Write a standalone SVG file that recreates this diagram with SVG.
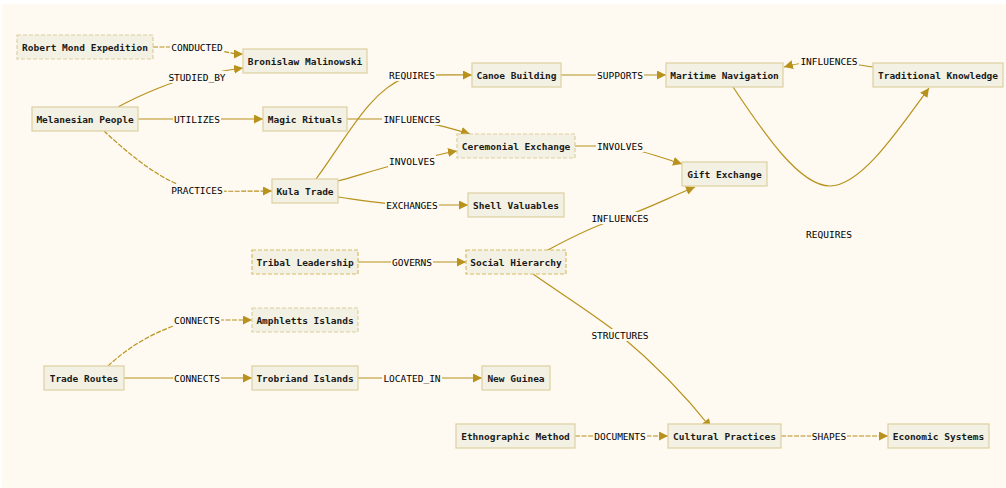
<svg xmlns="http://www.w3.org/2000/svg" width="1006" height="488" viewBox="0 0 1006 488">
<defs>
<marker id="arr" viewBox="0 0 10 10" refX="10" refY="5" markerWidth="9" markerHeight="9" markerUnits="userSpaceOnUse" orient="auto">
<path d="M0,0 L10,5 L0,10 z" fill="#b8921c"/>
</marker>
<style>
.bg{fill:#fef9f1}
.n rect{fill:#f3f1e3;stroke:#ddd0a0;stroke-width:1.2}
.n.d rect{stroke-dasharray:4 2}
.n.k rect{stroke:#d6bd64}
.n text{font-family:"DejaVu Sans Mono","Liberation Mono",monospace;font-size:9.5px;font-weight:bold;fill:#1a1a1a;text-anchor:middle;dominant-baseline:central}
#edges path{fill:none;stroke:#b8921c;stroke-width:1.2;marker-end:url(#arr)}
#edges path.ds{stroke-dasharray:5 1.5}
.lb rect{fill:#fef9f1}
.lb text{font-family:"DejaVu Sans Mono","Liberation Mono",monospace;font-size:9.5px;fill:#000;text-anchor:middle;dominant-baseline:central}
</style>
</defs>
<rect x="0" y="0" width="1006" height="488" fill="#ffffff"/>
<rect class="bg" x="2" y="4" width="1004" height="484" rx="3"/>

<g id="edges">
<path class="ds" d="M153,47 L185,47 C215,47 225,54 243,54"/>
<path d="M118,107 C140,95 175,80 197,76 C215,72 228,70 243,68"/>
<path d="M138,119 L263,119"/>
<path class="ds" d="M104,131 C130,155 165,185 197,190 C220,192 245,191 272,191"/>
<path d="M347,119 L400,119 C430,122 450,128 470,134"/>
<path d="M316,179 C345,140 370,90 405,78 C420,74 440,75 472,75"/>
<path d="M338,181 C360,175 390,165 412,161 C430,157 445,153 457,151"/>
<path d="M338,197 C360,200 390,205 412,205 L468,205"/>
<path d="M561,75 L666,75"/>
<path d="M873,67 C855,65 845,61 829,61 C810,61 795,64 784,67"/>
<path d="M733,87 C765,135 800,186 830,186 C860,186 895,135 929,88"/>
<path d="M575,146 L620,146 C640,150 660,157 682,164"/>
<path d="M546,251 C570,238 595,225 620,218 C645,210 670,197 695,187"/>
<path d="M358,262 L466,262"/>
<path d="M533,274 C560,293 595,315 620,335 C650,360 685,395 711,428"/>
<path class="ds" d="M108,366 C130,345 165,325 197,320 L252,320"/>
<path d="M124,378 L252,378"/>
<path d="M358,378 L482,378"/>
<path class="ds" d="M575,436 L668,436"/>
<path class="ds" d="M781,436 L888,436"/>

<g class="lb"><rect x="170" y="41" width="54" height="12"/><text x="197" y="47">CONDUCTED</text></g>
<g class="lb"><rect x="167" y="71" width="60" height="12"/><text x="197" y="77">STUDIED_BY</text></g>
<g class="lb"><rect x="173" y="113" width="48" height="12"/><text x="197" y="119">UTILIZES</text></g>
<g class="lb"><rect x="170" y="184" width="54" height="12"/><text x="197" y="190">PRACTICES</text></g>
<g class="lb"><rect x="382" y="113" width="60" height="12"/><text x="412" y="119">INFLUENCES</text></g>
<g class="lb"><rect x="388" y="69" width="48" height="12"/><text x="412" y="75">REQUIRES</text></g>
<g class="lb"><rect x="388" y="155" width="48" height="12"/><text x="412" y="161">INVOLVES</text></g>
<g class="lb"><rect x="385" y="199" width="54" height="12"/><text x="412" y="205">EXCHANGES</text></g>
<g class="lb"><rect x="596" y="69" width="48" height="12"/><text x="620" y="75">SUPPORTS</text></g>
<g class="lb"><rect x="799" y="55" width="60" height="12"/><text x="829" y="61">INFLUENCES</text></g>
<g class="lb"><rect x="805" y="228" width="48" height="12"/><text x="829" y="234">REQUIRES</text></g>
<g class="lb"><rect x="596" y="140" width="48" height="12"/><text x="620" y="146">INVOLVES</text></g>
<g class="lb"><rect x="590" y="212" width="60" height="12"/><text x="620" y="218">INFLUENCES</text></g>
<g class="lb"><rect x="391" y="256" width="42" height="12"/><text x="412" y="262">GOVERNS</text></g>
<g class="lb"><rect x="590" y="329" width="60" height="12"/><text x="620" y="335">STRUCTURES</text></g>
<g class="lb"><rect x="173" y="314" width="48" height="12"/><text x="197" y="320">CONNECTS</text></g>
<g class="lb"><rect x="173" y="372" width="48" height="12"/><text x="197" y="378">CONNECTS</text></g>
<g class="lb"><rect x="382" y="372" width="60" height="12"/><text x="412" y="378">LOCATED_IN</text></g>
<g class="lb"><rect x="593" y="430" width="54" height="12"/><text x="620" y="436">DOCUMENTS</text></g>
<g class="lb"><rect x="811" y="430" width="36" height="12"/><text x="829" y="436">SHAPES</text></g>
</g>

<g id="robert" class="n d"><rect x="17" y="35" width="136" height="24"/><text x="85" y="47">Robert Mond Expedition</text></g>
<g id="bronislaw" class="n"><rect x="243" y="49" width="124" height="24"/><text x="305" y="61">Bronislaw Malinowski</text></g>
<g id="melanesian" class="n"><rect x="32" y="107" width="106" height="24"/><text x="85" y="119">Melanesian People</text></g>
<g id="magic" class="n"><rect x="263" y="107" width="84" height="24"/><text x="305" y="119">Magic Rituals</text></g>
<g id="kula" class="n"><rect x="272" y="179" width="66" height="24"/><text x="305" y="191">Kula Trade</text></g>
<g id="canoe" class="n"><rect x="472" y="63" width="89" height="24"/><text x="516.5" y="75">Canoe Building</text></g>
<g id="ceremonial" class="n d"><rect x="457" y="134" width="118" height="24"/><text x="516" y="146">Ceremonial Exchange</text></g>
<g id="shell" class="n"><rect x="468" y="193" width="96" height="24"/><text x="516" y="205">Shell Valuables</text></g>
<g id="maritime" class="n"><rect x="666" y="63" width="117" height="24"/><text x="724.5" y="75">Maritime Navigation</text></g>
<g id="traditional" class="n"><rect x="873" y="63" width="130" height="24"/><text x="938" y="75">Traditional Knowledge</text></g>
<g id="gift" class="n"><rect x="682" y="162" width="85" height="24"/><text x="724.5" y="174">Gift Exchange</text></g>
<g id="tribal" class="n d k"><rect x="252" y="250" width="106" height="24"/><text x="305" y="262">Tribal Leadership</text></g>
<g id="social" class="n d k"><rect x="466" y="250" width="100" height="24"/><text x="516" y="262">Social Hierarchy</text></g>
<g id="amphletts" class="n d"><rect x="252" y="308" width="106" height="24"/><text x="305" y="320">Amphletts Islands</text></g>
<g id="traderoutes" class="n"><rect x="44" y="366" width="80" height="24"/><text x="84" y="378">Trade Routes</text></g>
<g id="trobriand" class="n"><rect x="252" y="366" width="106" height="24"/><text x="305" y="378">Trobriand Islands</text></g>
<g id="newguinea" class="n"><rect x="482" y="366" width="68" height="24"/><text x="516" y="378">New Guinea</text></g>
<g id="ethnographic" class="n"><rect x="456" y="424" width="119" height="24"/><text x="515.5" y="436">Ethnographic Method</text></g>
<g id="cultural" class="n"><rect x="668" y="424" width="113" height="24"/><text x="724.5" y="436">Cultural Practices</text></g>
<g id="economic" class="n"><rect x="888" y="424" width="101" height="24"/><text x="938.5" y="436">Economic Systems</text></g>
</svg>
